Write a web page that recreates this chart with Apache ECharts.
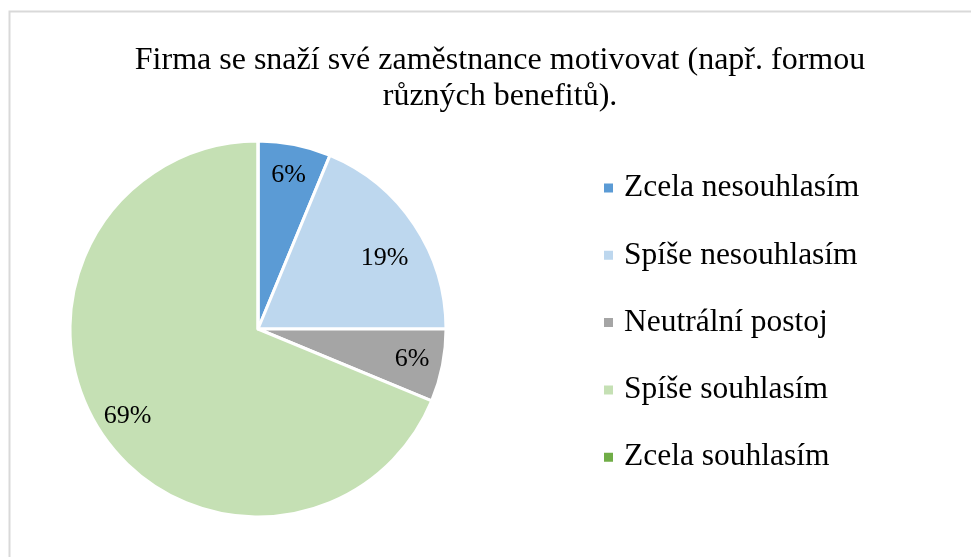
<!DOCTYPE html>
<html>
<head>
<meta charset="utf-8">
<script src="https://cdn.jsdelivr.net/npm/echarts@6/dist/echarts.min.js"></script>
<style>
html,body{margin:0;padding:0;background:#fff;overflow:hidden;}
#main{width:971px;height:557px;}
</style>
</head>
<body>
<div id="main"></div>
<script>
var categories = ['Zcela nesouhlasím', 'Spíše nesouhlasím', 'Neutrální postoj', 'Spíše souhlasím', 'Zcela souhlasím'];
var counts = [2, 6, 2, 22, 0];
var colors = ['#5B9BD5', '#BDD7EE', '#A5A5A5', '#C5E0B4', '#70AD47'];
var titleText = 'Firma se snaží své zaměstnance motivovat (např. formou\nrůzných benefitů).';

var pieData = [];
for (var i = 0; i < categories.length; i++) {
	pieData.push({ name: categories[i], value: counts[i], itemStyle: { color: colors[i] } });
}
// second ring only carries the % labels, pushed out towards the rim like Excel does
var labelData = [];
for (var j = 0; j < categories.length; j++) {
	labelData.push({ name: categories[j], value: counts[j] });
}
labelData[1].label = { offset: [-4, 16] };

var myChart = echarts.init(document.getElementById('main'));
var font = 'Liberation Serif, Times New Roman, serif';
var option = {
	animation: false,
	graphic: [{
		type: 'rect',
		shape: { x: 9.5, y: 11.5, width: 1100, height: 700 },
		style: { fill: 'none', stroke: '#d9d9d9', lineWidth: 2 },
		silent: true
	}],
	title: {
		text: titleText,
		left: 500,
		top: 43,
		textAlign: 'center',
		padding: 0,
		textStyle: { fontFamily: font, fontSize: 32, fontWeight: 'normal', color: '#000', lineHeight: 36 }
	},
	legend: {
		data: categories,
		orient: 'vertical',
		left: 602,
		top: 170,
		itemWidth: 11,
		itemHeight: 11,
		itemGap: 31.3,
		icon: 'rect',
		padding: 0,
		textStyle: { fontFamily: font, fontSize: 31.5, color: '#000', lineHeight: 36, padding: [0, 0, 0, 5] }
	},
	series: [{
		type: 'pie',
		center: [258, 329],
		radius: [0, 188],
		startAngle: 90,
		clockwise: true,
		avoidLabelOverlap: false,
		silent: true,
		itemStyle: { borderColor: '#fff', borderWidth: 3 },
		label: { show: false },
		labelLine: { show: false },
		data: pieData
	}, {
		type: 'pie',
		center: [258, 329],
		radius: [120, 188],
		startAngle: 90,
		clockwise: true,
		avoidLabelOverlap: false,
		silent: true,
		percentPrecision: 0,
		itemStyle: { color: 'rgba(0,0,0,0)', borderWidth: 0 },
		label: {
			show: true,
			position: 'inside',
			fontFamily: font,
			fontSize: 26,
			color: '#000',
			formatter: function (p) { return p.value ? p.percent + '%' : ''; }
		},
		labelLine: { show: false },
		data: labelData
	}]
};
myChart.setOption(option);
</script>
</body>
</html>
